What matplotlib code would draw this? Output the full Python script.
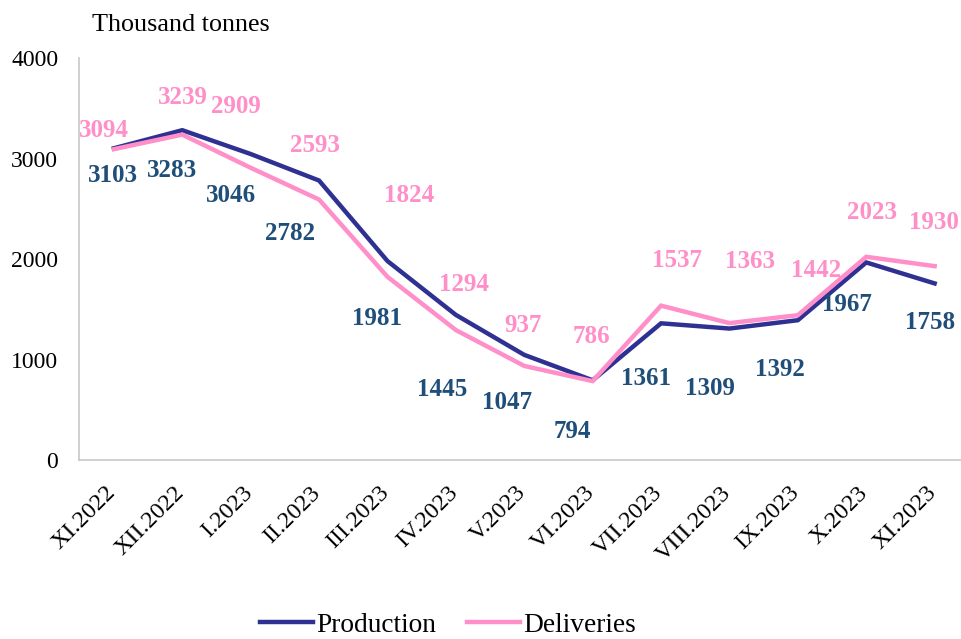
import numpy as np
import matplotlib.pyplot as plt
import matplotlib.transforms as mtransforms

plt.rcParams['font.family'] = ['Liberation Serif', 'DejaVu Serif']

# datos
months = ['XI.2022', 'XII.2022', 'I.2023', 'II.2023', 'III.2023', 'IV.2023', 'V.2023',
          'VI.2023', 'VII.2023', 'VIII.2023', 'IX.2023', 'X.2023', 'XI.2023']
production = [3103, 3283, 3046, 2782, 1981, 1445, 1047, 794, 1361, 1309, 1392, 1967, 1758]
deliveries = [3094, 3239, 2909, 2593, 1824, 1294, 937, 786, 1537, 1363, 1442, 2023, 1930]

# desplazamiento de las etiquetas (pixeles)
prod_dx = [-1, -10, -20, -29, -10, -14, -17, -20, -15, -20, -18, -19, -5]
prod_dy = [-27, -40, -41, -53, -57, -75, -48, -51, -55, -60, -49, -42, -39]
deliv_dx = [-10, 1, -15, -4, 22, 8, -1, -1, 16, 21, 18, 6, -1]
deliv_dy = [19, 37, 61, 54, 81, 46, 40, 45, 45, 62, 45, 44, 44]

c_prod = '#2E3192'
c_prod_lab = '#1F4E79'
c_deliv = '#FF8FC8'

x = np.arange(len(months))

fig = plt.figure(figsize=(9.62, 6.39), dpi=100)
ax = fig.add_axes([0.0821, 0.280, 0.9179, 0.629])

ax.plot(x, production, color=c_prod, lw=3.2, label='Production', solid_joinstyle='miter', zorder=3)
ax.plot(x, deliveries, color=c_deliv, lw=3.2, label='Deliveries', solid_joinstyle='miter', zorder=4)

for i in range(len(months)):
    ax.annotate(str(production[i]), (x[i], production[i]), xytext=(prod_dx[i], prod_dy[i]),
                textcoords='offset pixels', ha='center', va='center', fontsize=18,
                fontweight='bold', color=c_prod_lab)
    ax.annotate(str(deliveries[i]), (x[i], deliveries[i]), xytext=(deliv_dx[i], deliv_dy[i]),
                textcoords='offset pixels', ha='center', va='center', fontsize=18,
                fontweight='bold', color=c_deliv)

ax.set_xlim(-0.51, 12.4)
ax.set_ylim(0, 4000)
ax.set_yticks([0, 1000, 2000, 3000, 4000])
ax.set_xticks(x)
ax.set_xticklabels(months, rotation=45, ha='right')
ax.tick_params(axis='y', length=0, pad=15, labelsize=17)
ax.tick_params(axis='x', length=0, pad=16, labelsize=17.5)

# correr un poco las etiquetas del eje x a la derecha
shift = mtransforms.ScaledTranslation(6 / 100, 0, fig.dpi_scale_trans)
for lab in ax.get_xticklabels():
    lab.set_transform(lab.get_transform() + shift)

for s in ['top', 'right']:
    ax.spines[s].set_visible(False)
for s in ['left', 'bottom']:
    ax.spines[s].set_color('#C8C8C8')
    ax.spines[s].set_linewidth(1.2)

fig.text(92 / 962, 1 - 25 / 639, 'Thousand tonnes', fontsize=18.8, va='center', ha='left')

fig.legend(loc='center', bbox_to_anchor=(448 / 962, 1 - 625 / 639), ncol=2, frameon=False,
           fontsize=19.7, handlelength=1.95, handletextpad=0.12, columnspacing=1.1)

fig.savefig('out.png', dpi=100)
